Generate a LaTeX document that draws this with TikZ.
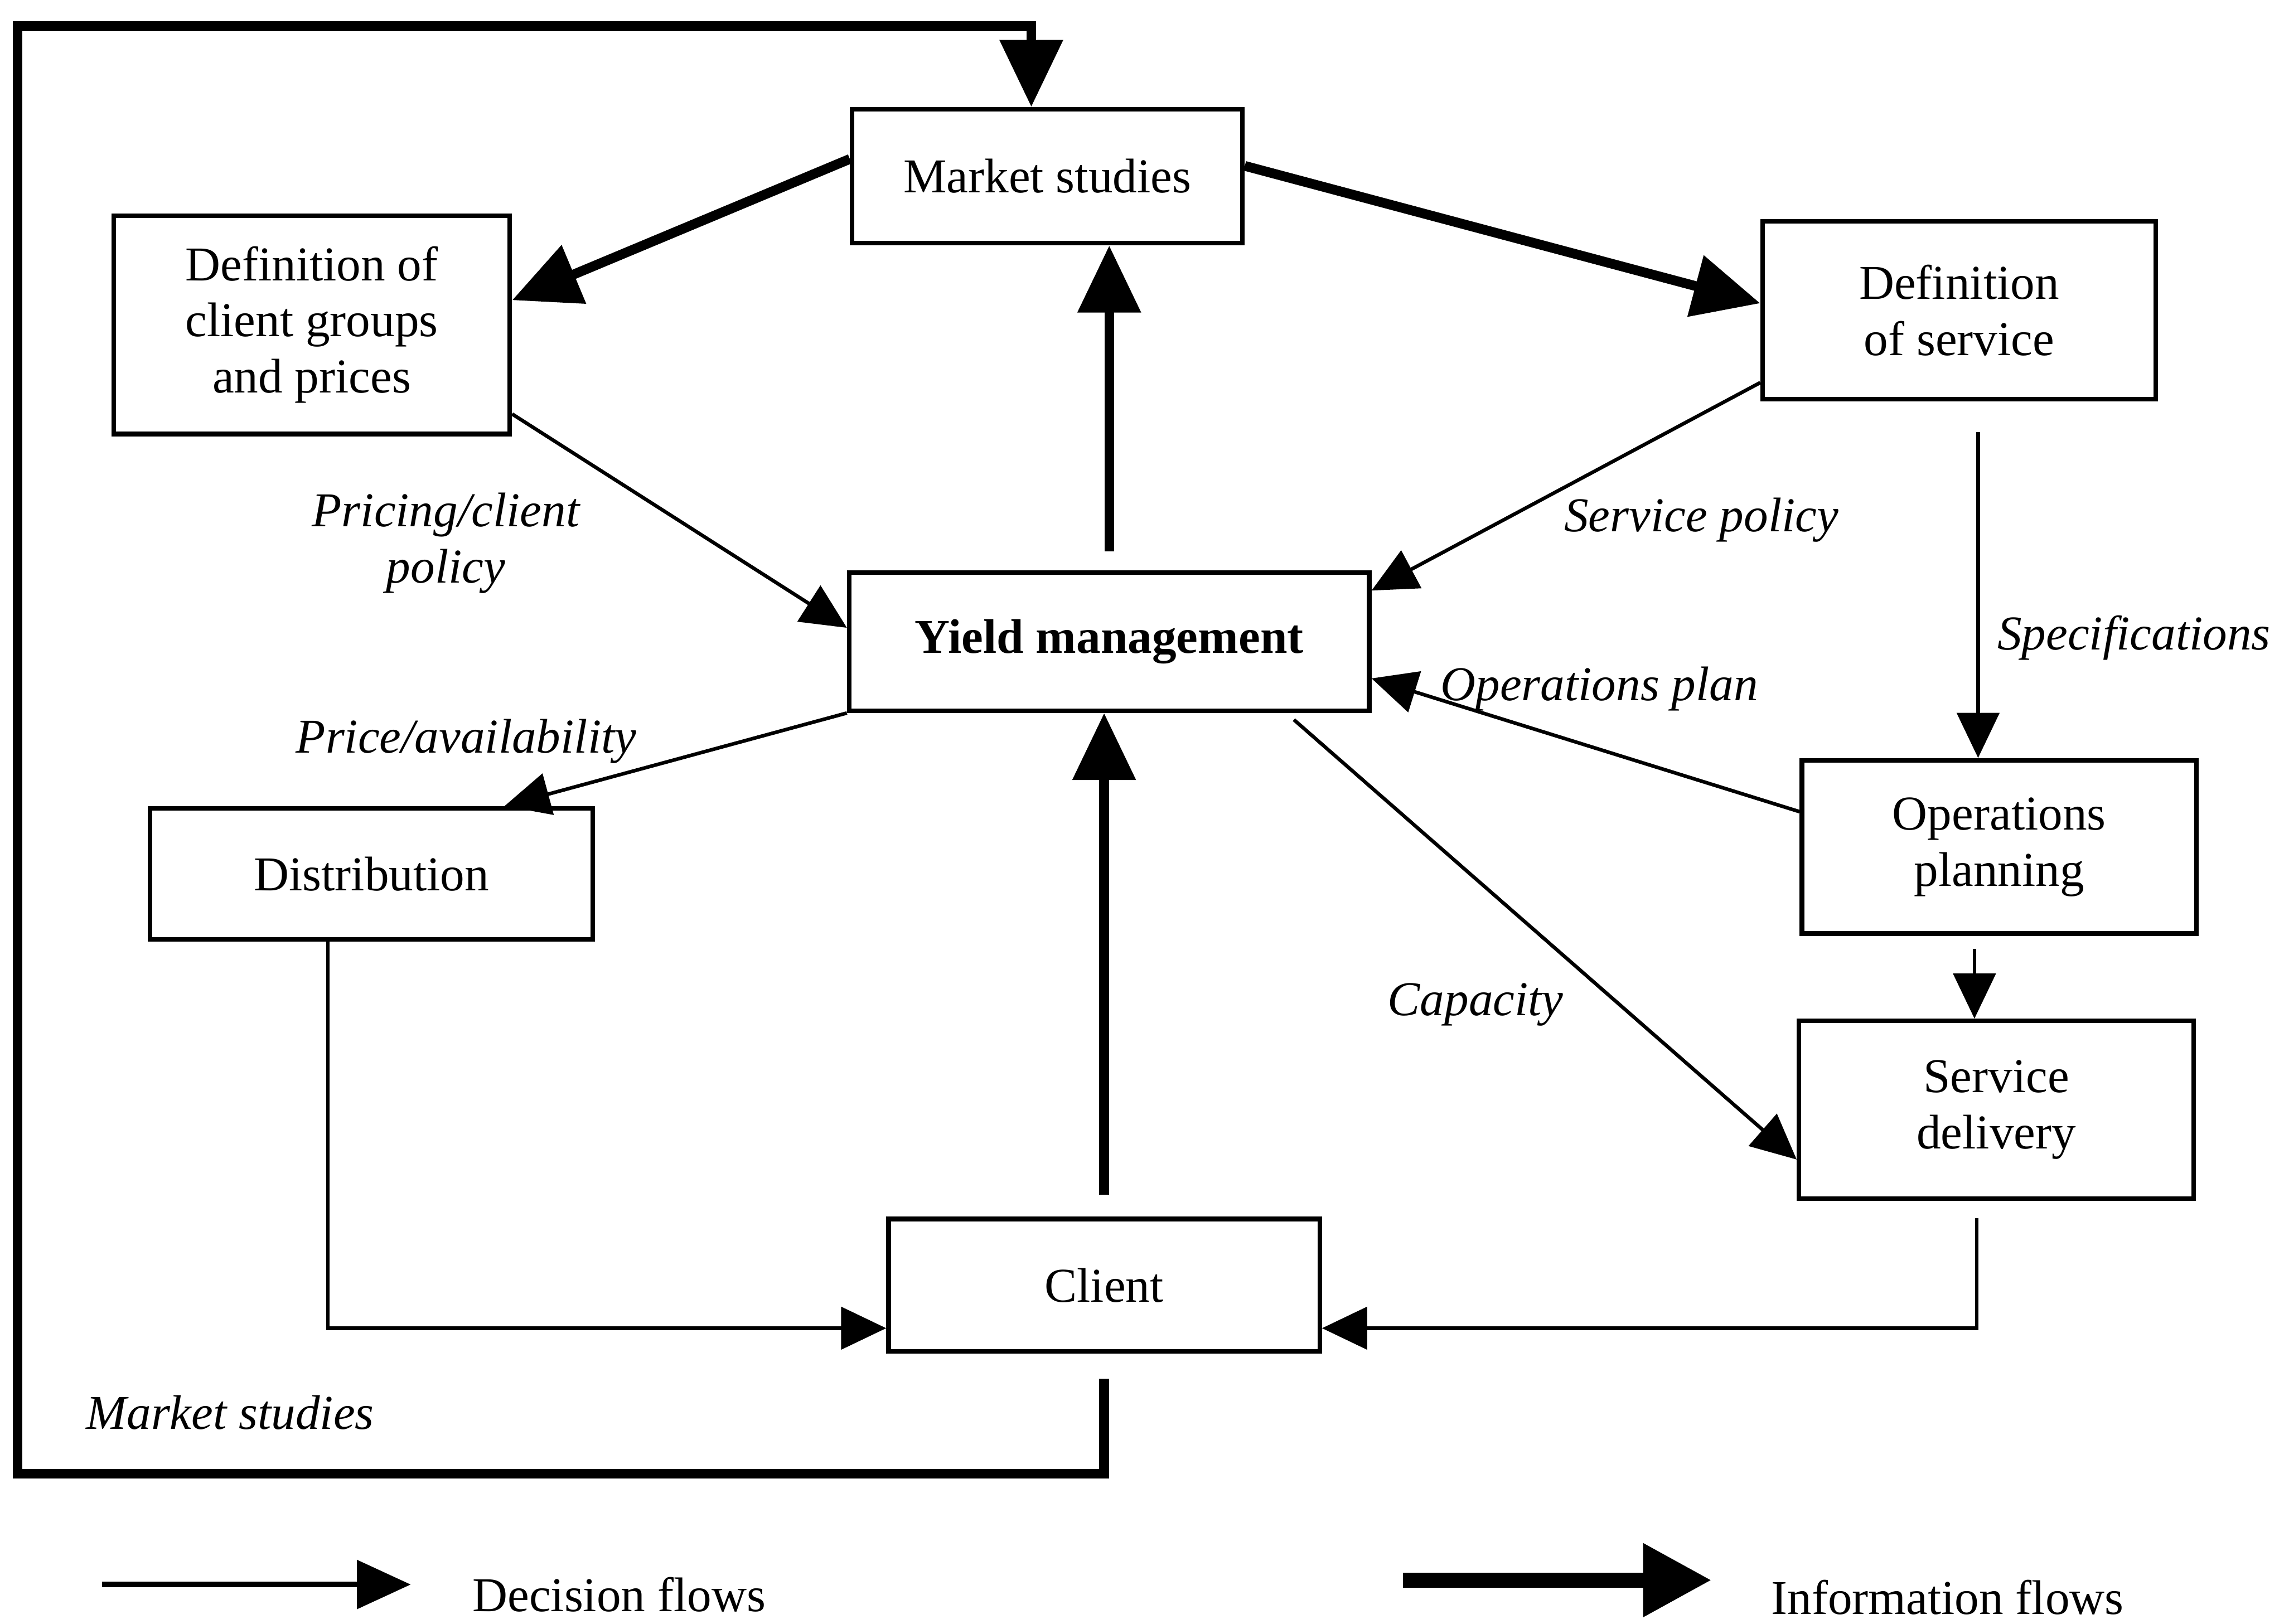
\documentclass[tikz,border=0pt]{standalone}
\usepackage{fontspec}
\setmainfont{Liberation Serif}
\usetikzlibrary{arrows.meta,calc}

\begin{document}
\begin{tikzpicture}[x=0.1mm, y=-0.1mm,
  box/.style={draw=black, line width=0.9pt, align=center, inner sep=0pt, font=\fontsize{9.5}{11}\selectfont},
  lbl/.style={align=center, inner sep=0pt, font=\fontsize{9.5}{11}\selectfont\itshape},
  decision/.style={line width=0.7pt, -{Triangle[length=3.1mm, width=2.9mm]}},
  info/.style={line width=1.9pt, -{Triangle[length=4.6mm, width=4.2mm]}}]
%\draw [help lines] (0,0) grid[step=100] (1568,1115);
\useasboundingbox (0,0) rectangle (1568,1115);

\node[box, minimum width=26.8mm, minimum height=9.2mm] (market) at (719,121) {Market studies};
\node[box, minimum width=27.2mm, minimum height=15mm] (defclient) at (214,223) {Definition of\\client groups\\and prices};
\node[box, minimum width=27mm, minimum height=12.2mm] (defservice) at (1345,213) {Definition\\of service};
\node[box, minimum width=35.7mm, minimum height=9.5mm, font=\fontsize{9.5}{11}\selectfont\bfseries] (yield) at (761.5,440.5) {Yield management};
\node[box, minimum width=30.4mm, minimum height=9mm] (distribution) at (255,600) {Distribution};
\node[box, minimum width=27.1mm, minimum height=11.9mm] (ops) at (1372.5,581.5) {Operations\\planning};
\node[box, minimum width=27.1mm, minimum height=12.2mm] (delivery) at (1370.5,762) {Service\\delivery};
\node[box, minimum width=29.6mm, minimum height=9.1mm] (client) at (758,882.5) {Client};

\node[lbl] (pricinglbl) at (306,373) {Pricing/client\\policy};
\node[lbl] (servicelbl) at (1168,357) {Service policy};
\node[lbl] (speclbl) at (1465,438) {Specifications};
\node[lbl] (opslbl) at (1098,473) {Operations plan};
\node[lbl] (pricelbl) at (320,509) {Price/availability};
\node[lbl] (capacitylbl) at (1013,690) {Capacity};
\node[lbl] (marketlbl) at (158,970) {Market studies};

% information flows
\draw[info] (market.175) -- (defclient.7);
\draw[info] (market.3) -- (defservice.178);
\draw[info, shorten <=1.3mm] (yield.north) -- (yield.north |- market.south);
\draw[info, shorten <=1.5mm] (client.north) -- (client.north |- yield.south);
\coordinate (loopbl) at (12,1012);
\coordinate (looptl) at (12,18);
\draw[info, shorten <=1.7mm] (client.south) -- (client.south |- loopbl) -- (loopbl) -- (looptl) -| ([xshift=-1.1mm]market.north);

% decision flows
\draw[decision] (defclient.-24) -- (yield.177);
\draw[decision] (defservice.200) -- (yield.11);
\draw[decision] (ops.170) -- (yield.-8);
\draw[decision, shorten <=0.7mm] (yield.-22) -- (delivery.194);
\draw[decision] (yield.south west) -- (distribution.27);
\draw[decision, shorten <=2.1mm] ([xshift=1.3mm]defservice.south) -- ([xshift=1.3mm]defservice.south |- ops.north);
\draw[decision, shorten <=0.9mm] ([xshift=-1.7mm]ops.south) -- ([xshift=-1.7mm]ops.south |- delivery.north);
\draw[decision] ([xshift=-3mm]distribution.south) |- ([yshift=-2.95mm]client.west);
\draw[decision, shorten <=1.2mm] ([xshift=-1.35mm]delivery.south) |- ([yshift=-2.95mm]client.east);

% legend
\coordinate (dec0) at (70,1088);
\coordinate (dec1) at (282,1088);
\coordinate (inf0) at (963,1085);
\coordinate (inf1) at (1175,1085);
\draw[line width=1.1pt, -{Triangle[length=3.7mm, width=3.3mm]}] (dec0) -- (dec1);
\draw[line width=2.9pt, -{Triangle[length=4.7mm, width=4.8mm]}] (inf0) -- (inf1);
\node[font=\fontsize{9.5}{11}\selectfont] (declbl) at (425,1095) {Decision flows};
\node[font=\fontsize{9.5}{11}\selectfont] (infolbl) at (1337,1097) {Information flows};
\end{tikzpicture}
\end{document}
